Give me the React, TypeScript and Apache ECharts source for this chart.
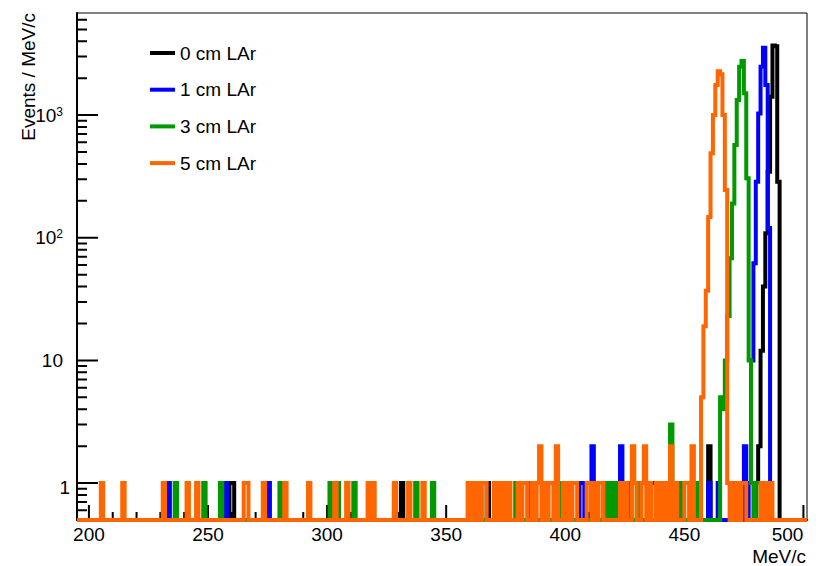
import { useEffect, useRef } from 'react';
import * as echarts from 'echarts';

const FONT = '"Liberation Sans", Arial, Helvetica, sans-serif';

const seriesNames = ['0 cm LAr', '1 cm LAr', '3 cm LAr', '5 cm LAr'];
const seriesColors = ['#000000', '#0000ff', '#009900', '#ff6600'];

// Momentum spectra in 1 MeV/c bins: [bin low edge (MeV/c), entries]. Empty bins are left out.
const lar0cm: [number, number][] = [
  [259, 1], [260, 1], [331, 1], [367, 1], [460, 2],
  [480, 1], [481, 2], [482, 12], [483, 40], [484, 109], [485, 345], [486, 1410],
  [487, 3700], [488, 3650], [489, 286],
];

const lar1cm: [number, number][] = [
  [233, 1], [257, 1], [275, 1], [406, 1], [407, 1], [411, 2], [423, 2], [436, 1], [437, 1],
  [460, 1], [464, 1], [475, 2], [477, 1],
  [478, 10], [479, 62], [480, 286], [481, 1030], [482, 2480], [483, 3540], [484, 1760], [485, 120],
];

const lar3cm: [number, number][] = [
  [236, 1], [248, 1], [255, 1], [280, 1], [301, 1], [304, 1], [311, 1], [337, 1], [344, 1],
  [379, 1], [385, 1], [398, 1], [416, 1], [418, 1], [420, 1], [422, 1], [426, 1], [430, 1],
  [444, 3], [448, 1], [455, 1],
  [465, 5], [466, 4], [467, 10], [468, 23], [469, 68], [470, 190], [471, 570], [472, 1325],
  [473, 2480], [474, 2760], [475, 1510], [476, 306], [477, 10],
  [478, 1], [480, 1], [481, 1],
];

const lar5cm: [number, number][] = [
  [205, 1], [214, 1], [231, 1], [241, 1], [245, 1], [265, 1], [266, 1], [273, 1], [282, 1],
  [292, 1], [303, 1], [308, 1], [317, 1], [319, 1], [328, 1], [334, 1], [340, 1],
  [359, 1], [361, 1], [363, 1], [365, 1], [366, 1],
  [370, 1], [372, 1], [374, 1], [376, 1],
  [380, 1], [382, 1], [383, 1],
  [386, 1], [388, 1], [389, 2], [391, 1], [393, 1], [394, 1], [396, 2], [399, 1], [401, 1],
  [403, 1], [404, 1],
  [409, 1], [410, 1], [412, 1], [414, 1], [415, 1],
  [423, 1], [425, 1], [428, 2], [429, 1], [432, 1], [433, 2], [435, 1],
  [438, 1], [440, 1], [442, 1], [444, 2], [446, 1], [450, 1], [451, 1], [453, 2],
  [457, 5], [458, 19], [459, 37], [460, 148], [461, 488], [462, 1000], [463, 1760],
  [464, 2280], [465, 2150], [466, 1000], [467, 245],
  [468, 1], [470, 1], [472, 1], [474, 1], [475, 1],
  [482, 1], [484, 1], [486, 1],
];

const seriesCounts = [lar0cm, lar1cm, lar3cm, lar5cm];

const xMin = 195;
const xMax = 501.5;
const yMin = 0.5;
const yMax = 6800;

const xMajorTicks = [200, 250, 300, 350, 400, 450, 500];
const xMinorTicks = [
  210, 220, 230, 240, 260, 270, 280, 290, 310, 320, 330, 340, 360, 370, 380, 390,
  410, 420, 430, 440, 460, 470, 480, 490,
];
const yMajorTicks = [1, 10, 100, 1000];
const yMinorTicks = [
  0.6, 0.7, 0.8, 0.9, 2, 3, 4, 5, 6, 7, 8, 9, 20, 30, 40, 50, 60, 70, 80, 90,
  200, 300, 400, 500, 600, 700, 800, 900, 2000, 3000, 4000, 5000, 6000,
];

// Turn sparse bin contents into step-line points; empty bins sit on the axis floor.
function toSteps(counts: [number, number][]) {
  const m = new Map(counts);
  const pts: [number, number][] = [];
  for (let b = xMin; b < xMax; b++) {
    const v = m.get(b) ?? 0;
    pts.push([b, v > 0 ? v : yMin]);
  }
  pts.push([xMax, pts[pts.length - 1][1]]);
  return pts;
}

function yLabel(v: number) {
  if (v === 1) return '{one|1}';
  if (v === 10) return '{ten|10}';
  return '{b|10}{sup|' + Math.round(Math.log10(v)) + '}';
}

export default function App() {
  const ref = useRef<HTMLDivElement>(null);

  useEffect(() => {
    document.body.style.margin = '0';
    const chart = echarts.init(ref.current!, undefined, { renderer: 'svg' });

    const histSeries: any[] = seriesCounts.map((c, i) => ({
      type: 'line',
      name: seriesNames[i],
      data: toSteps(c),
      step: 'end',
      showSymbol: false,
      symbol: 'none',
      clip: false,
      silent: true,
      z: 2,
      itemStyle: { color: seriesColors[i] },
      lineStyle: { color: seriesColors[i], width: 4, join: 'miter', cap: 'butt' },
    }));

    chart.setOption({
      animation: false,
      backgroundColor: '#ffffff',
      grid: {
        left: 77,
        top: 13,
        right: 22,
        bottom: 46,
        show: true,
        borderColor: '#000',
        borderWidth: 1,
        containLabel: false,
      },
      legend: {
        data: seriesNames,
        orient: 'vertical',
        left: 150,
        top: 43,
        padding: 0,
        itemWidth: 25,
        itemHeight: 4,
        itemGap: 16.7,
        icon: 'rect',
        selectedMode: false,
        textStyle: { fontFamily: FONT, fontSize: 19, color: '#000', lineHeight: 20 },
      },
      xAxis: {
        type: 'value',
        min: xMin,
        max: xMax,
        position: 'bottom',
        axisLine: { show: true, onZero: false, lineStyle: { color: '#000', width: 2 } },
        axisTick: { show: false },
        axisLabel: {
          customValues: xMajorTicks,
          fontFamily: FONT,
          fontSize: 19,
          color: '#000',
          margin: 5,
          alignMaxLabel: 'right',
        },
        splitLine: { show: false },
      },
      yAxis: {
        type: 'log',
        logBase: 10,
        min: yMin,
        max: yMax,
        axisLine: { show: true, lineStyle: { color: '#000', width: 2 } },
        axisTick: { show: false },
        axisLabel: {
          customValues: yMajorTicks,
          margin: 7,
          formatter: yLabel,
          color: '#000',
          fontFamily: FONT,
          fontSize: 19,
          rich: {
            one: { fontFamily: FONT, fontSize: 19, color: '#000', padding: [8, 0, 0, 0] },
            ten: { fontFamily: FONT, fontSize: 19, color: '#000', padding: [0, 7, 0, 0] },
            b: { fontFamily: FONT, fontSize: 19, color: '#000' },
            sup: {
              fontFamily: FONT,
              fontSize: 12,
              color: '#000',
              verticalAlign: 'top',
              padding: [0, 7, 0, 0],
            },
          },
        },
        splitLine: { show: false },
      },
      graphic: [
        {
          type: 'text',
          x: 28,
          y: 13,
          rotation: Math.PI / 2,
          style: {
            text: 'Events / MeV/c',
            font: '19px ' + FONT,
            fill: '#000',
            align: 'right',
            verticalAlign: 'middle',
          },
        },
        {
          type: 'text',
          x: 806,
          y: 556,
          style: {
            text: 'MeV/c',
            font: '19px ' + FONT,
            fill: '#000',
            align: 'right',
            verticalAlign: 'middle',
          },
        },
      ],
      series: histSeries,
    });

    // Axis ticks (ROOT style, pointing into the frame) traced as one polyline per axis in
    // data space; tick lengths in pixels are converted through the grid's own scales.
    const finder = { gridIndex: 0 };
    const toPx = (v: [number, number]) => chart.convertToPixel(finder, v) as any;
    const fromPx = (p: [number, number]) => chart.convertFromPixel(finder, p) as any;

    const xTickPath: [number, number][] = [];
    [...xMajorTicks.map((v) => [v, 15]), ...xMinorTicks.map((v) => [v, 8])]
      .sort((a, b) => a[0] - b[0])
      .forEach(([v, len]) => {
        const p = toPx([v, yMin]);
        const top = fromPx([p[0], p[1] - len])[1];
        xTickPath.push([v, yMin], [v, top], [v, yMin]);
      });

    const yTickPath: [number, number][] = [];
    [...yMajorTicks.map((v) => [v, 21]), ...yMinorTicks.map((v) => [v, 10])]
      .sort((a, b) => a[0] - b[0])
      .forEach(([v, len]) => {
        const p = toPx([xMin, v]);
        const right = fromPx([p[0] + len, p[1]])[0];
        yTickPath.push([xMin, v], [right, v], [xMin, v]);
      });

    const tickSeries = (name: string, data: [number, number][]) => ({
      type: 'line',
      name,
      data,
      showSymbol: false,
      symbol: 'none',
      clip: false,
      silent: true,
      z: 1,
      lineStyle: { color: '#000', width: 2, join: 'bevel', cap: 'butt' },
      itemStyle: { color: '#000' },
    });

    chart.setOption({
      series: [...histSeries, tickSeries('x ticks', xTickPath), tickSeries('y ticks', yTickPath)],
    });

    return () => chart.dispose();
  }, []);

  return <div ref={ref} style={{ width: 829, height: 566 }} />;
}
